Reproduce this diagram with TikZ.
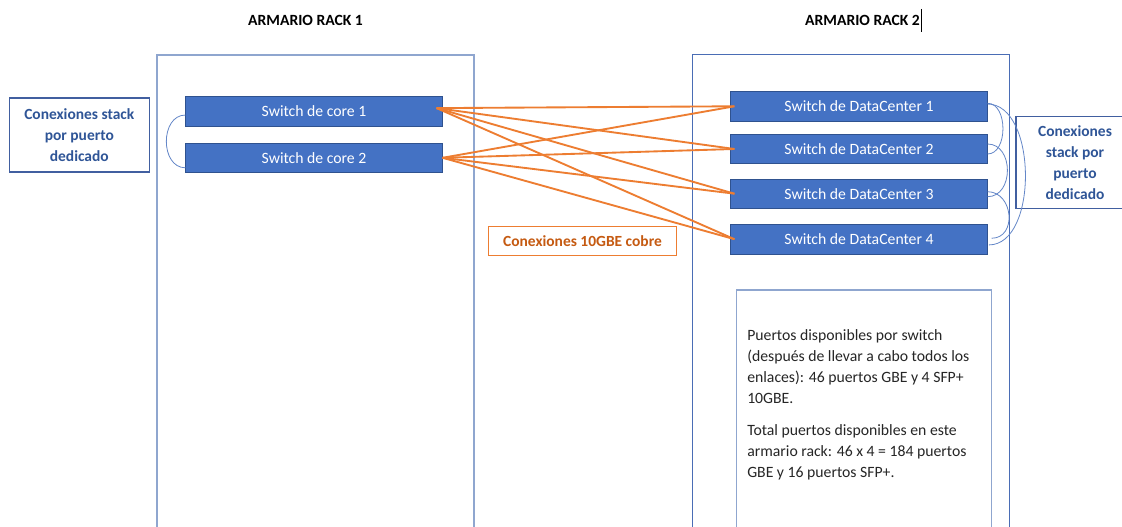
\documentclass[tikz,border=0pt]{standalone}
\usepackage{fontspec}
\setmainfont{Carlito}
\usepackage{tikz}

\begin{document}
\begin{tikzpicture}[x=0.75pt,y=-0.75pt,
    switchbox/.style={draw=switchedge, fill=switchfill, text=white, minimum width=192.4pt,
        minimum height=22pt, inner sep=0pt, font=\fontsize{11.8}{13}\selectfont},
    stacklabel/.style={draw=labeledge, thick, text=labeltext, align=center, inner sep=0pt,
        font=\bfseries\fontsize{11.6}{15.75}\selectfont},
    cable/.style={draw=cableorange, line width=1.4pt},
    stack/.style={draw=stackblue, line width=0.6pt}]
    % Define colors
    \definecolor{switchfill}{RGB}{68, 114, 196}
    \definecolor{switchedge}{RGB}{47, 82, 143}
    \definecolor{rackedge}{RGB}{143, 166, 207}
    \definecolor{rackedgetwo}{RGB}{74, 109, 181}
    \definecolor{labeledge}{RGB}{65, 95, 160}
    \definecolor{labeltext}{RGB}{47, 85, 151}
    \definecolor{stackblue}{RGB}{100, 135, 200}
    \definecolor{cableorange}{RGB}{237, 125, 49}
    \definecolor{cabletext}{RGB}{197, 90, 17}
    \definecolor{notetext}{RGB}{38, 38, 38}

    \fill[white] (0,0) rectangle (1122,527);
    \clip (0,0) rectangle (1122,527);

    % Draw the racks
    \draw[rackedge, line width=1pt] (157,545) -- (157,55) -- (474,55) -- (474,545);
    \draw[rackedgetwo, line width=1pt] (692.3,545) -- (692.3,54.5) -- (1009.3,54.5) -- (1009.3,545);

    % Titles
    \node[font=\bfseries\fontsize{11.7}{13}\selectfont] (rack1) at (305.5,20) {ARMARIO RACK 1};
    \node[font=\bfseries\fontsize{11.7}{13}\selectfont] (rack2) at (862.5,20) {ARMARIO RACK 2};
    \draw[black, line width=0.6pt] (921.5,9) -- (921.5,32);

    % Switches
    \node[switchbox] (core1) at (314,111.3) {Switch de core 1};
    \node[switchbox] (core2) at (314,157.8) {Switch de core 2};

    \node[switchbox] (dc1) at (859,106.3) {Switch de DataCenter 1};
    \node[switchbox] (dc2) at (859,149) {Switch de DataCenter 2};
    \node[switchbox] (dc3) at (859,193.7) {Switch de DataCenter 3};
    \node[switchbox] (dc4) at (859,239.2) {Switch de DataCenter 4};

    % Stack labels
    \node[stacklabel, minimum width=105pt, minimum height=55.5pt] (stackleft) at (79.3,135)
        {Conexiones stack\\por puerto\\dedicado};
    \node[stacklabel, minimum width=88.5pt, minimum height=69.2pt] (stackright) at (1075,162.2)
        {Conexiones\\stack por\\puerto\\dedicado};

    % Draw the stack loops
    \draw[stack] ([yshift=-2.8pt]core1.west) to[out=180, in=180, looseness=1.24] ([yshift=-7.5pt]core2.west);
    \draw[stack] ([yshift=2.25pt]dc1.east) to[out=0, in=0, looseness=1.04] ([yshift=-3.75pt]dc2.east);
    \draw[stack] ([yshift=3.75pt]dc2.east) to[out=0, in=0, looseness=1.29] ([yshift=-2.25pt]dc3.east);
    \draw[stack] ([yshift=1.5pt]dc3.east) to[out=0, in=0, looseness=1.42] ([xshift=3pt, yshift=0.7pt]dc4.east);
    \draw[stack] ([yshift=1.7pt]dc1.east) to[out=0, in=0, looseness=0.9] ([xshift=1pt, yshift=-4.3pt]dc4.east);

    % Draw the copper links
    \foreach \dc in {dc1,dc2,dc3,dc4} {
        \draw[cable] ([xshift=-4.5pt, yshift=2.4pt]core1.east) -- ([xshift=3pt]\dc.west);
        \draw[cable] (core2.east) -- ([xshift=3pt]\dc.west);
    }

    % Link label
    \node[draw=cableorange, line width=0.8pt, text=cabletext, minimum width=141.3pt, minimum height=22pt,
        inner sep=0pt, font=\bfseries\fontsize{11.6}{13}\selectfont] (cablelabel) at (582.5,241.3)
        {Conexiones 10GBE cobre};

    % Notes
    \draw[rackedge, line width=1pt] (736.7,545) -- (736.7,290) -- (991.7,290) -- (991.7,545);
    \node[anchor=north west, align=left, inner sep=0pt, text=notetext,
        font=\fontsize{11.8}{15.75}\selectfont] (notes) at (747,329.5)
        {Puertos disponibles por switch\\
         (después de llevar a cabo todos los\\
         enlaces): 46 puertos GBE y 4 SFP+\\
         10GBE.\\[8pt]
         Total puertos disponibles en este\\
         armario rack: 46 x 4 = 184 puertos\\
         GBE y 16 puertos SFP+.};
\end{tikzpicture}
\end{document}
